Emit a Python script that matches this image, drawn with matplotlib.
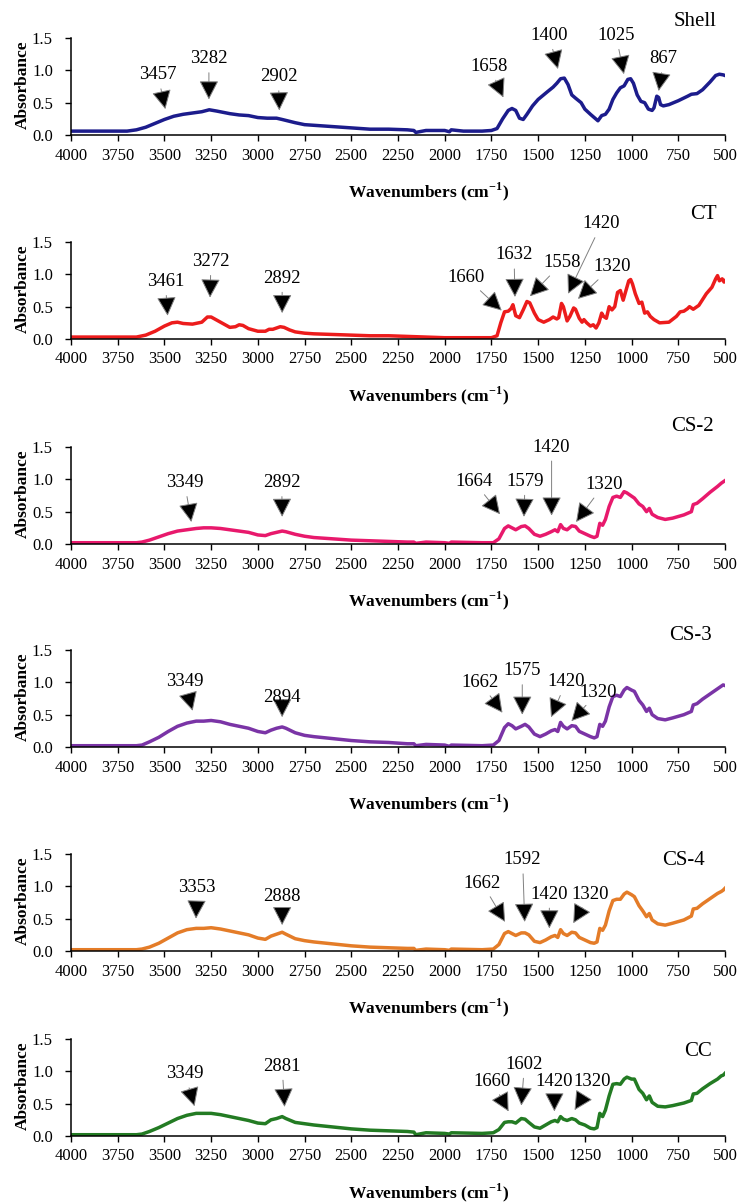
import matplotlib
matplotlib.use("Agg")
import matplotlib.pyplot as plt

plt.rcParams["font.family"] = ["Liberation Serif", "DejaVu Serif"]
plt.rcParams["mathtext.fontset"] = "custom"
plt.rcParams["mathtext.rm"] = "Liberation Serif"
plt.rcParams["mathtext.bf"] = "Liberation Serif:bold"

# ---- spectra (wavenumber cm-1, absorbance) ----
wn_shell = [4000, 3700, 3650, 3600, 3550, 3500, 3450, 3400, 3350, 3300, 3260, 3220, 3150, 3100,
            3050, 3000, 2950, 2900, 2870, 2800, 2750, 2700, 2600, 2500, 2400, 2300, 2200, 2165,
            2155, 2100, 2000, 1975, 1965, 1900, 1800, 1750, 1720, 1690, 1660, 1640, 1620, 1600,
            1580, 1560, 1530, 1500, 1450, 1420, 1400, 1380, 1360, 1340, 1320, 1300, 1270, 1250,
            1220, 1200, 1180, 1160, 1140, 1120, 1100, 1080, 1060, 1040, 1020, 1005, 990, 970,
            950, 930, 910, 890, 880, 865, 855, 845, 830, 800, 750, 700, 680, 650, 620, 580, 550,
            530, 510, 500]
ab_shell = [0.06, 0.06, 0.08, 0.12, 0.18, 0.24, 0.29, 0.32, 0.34, 0.36, 0.39, 0.37, 0.33, 0.31,
            0.30, 0.27, 0.26, 0.26, 0.24, 0.19, 0.16, 0.15, 0.13, 0.11, 0.09, 0.09, 0.08, 0.07,
            0.04, 0.07, 0.07, 0.05, 0.08, 0.06, 0.06, 0.07, 0.10, 0.25, 0.38, 0.41, 0.38, 0.26,
            0.24, 0.32, 0.45, 0.55, 0.67, 0.74, 0.80, 0.87, 0.88, 0.78, 0.62, 0.57, 0.50, 0.40,
            0.32, 0.27, 0.22, 0.30, 0.32, 0.40, 0.55, 0.65, 0.73, 0.76, 0.86, 0.87, 0.80, 0.62,
            0.52, 0.50, 0.40, 0.38, 0.42, 0.60, 0.58, 0.47, 0.45, 0.47, 0.53, 0.60, 0.63, 0.64,
            0.70, 0.82, 0.92, 0.94, 0.93, 0.92]

wn_ct = [4000, 3650, 3600, 3550, 3500, 3460, 3430, 3400, 3350, 3300, 3270, 3250, 3200, 3150,
         3120, 3100, 3080, 3050, 3000, 2960, 2940, 2920, 2900, 2880, 2860, 2830, 2800, 2750,
         2700, 2600, 2500, 2400, 2300, 2200, 2100, 2000, 1900, 1750, 1720, 1700, 1680, 1660,
         1645, 1635, 1620, 1600, 1580, 1560, 1545, 1520, 1500, 1470, 1440, 1420, 1400, 1390,
         1375, 1365, 1345, 1330, 1310, 1300, 1280, 1265, 1255, 1240, 1220, 1205, 1190, 1175,
         1160, 1150, 1135, 1120, 1105, 1090, 1075, 1060, 1045, 1030, 1015, 1005, 995, 980, 960,
         945, 930, 915, 900, 880, 850, 800, 760, 740, 720, 700, 690, 670, 640, 600, 570, 550,
         540, 530, 515, 505, 500]
ab_ct = [0.03, 0.03, 0.06, 0.12, 0.20, 0.25, 0.26, 0.24, 0.23, 0.26, 0.34, 0.34, 0.26, 0.18,
         0.19, 0.22, 0.21, 0.16, 0.12, 0.12, 0.15, 0.15, 0.17, 0.19, 0.18, 0.14, 0.11, 0.09,
         0.08, 0.07, 0.06, 0.05, 0.05, 0.04, 0.03, 0.02, 0.02, 0.02, 0.05, 0.25, 0.42, 0.43,
         0.47, 0.53, 0.36, 0.33, 0.45, 0.58, 0.56, 0.40, 0.30, 0.26, 0.30, 0.34, 0.31, 0.33,
         0.55, 0.50, 0.28, 0.35, 0.48, 0.46, 0.32, 0.26, 0.30, 0.25, 0.20, 0.22, 0.17, 0.25,
         0.40, 0.35, 0.32, 0.50, 0.45, 0.50, 0.72, 0.75, 0.60, 0.75, 0.90, 0.92, 0.85, 0.70, 0.55,
         0.57, 0.40, 0.42, 0.35, 0.30, 0.25, 0.26, 0.35, 0.42, 0.43, 0.47, 0.50, 0.46, 0.52,
         0.70, 0.80, 0.93, 0.98, 0.90, 0.93, 0.88, 0.90]

wn_cs = [4000, 3650, 3620, 3580, 3530, 3480, 3430, 3380, 3330, 3290, 3250, 3200, 3150, 3100,
         3050, 3000, 2960, 2930, 2900, 2870, 2850, 2800, 2750, 2700, 2600, 2500, 2400, 2300,
         2200, 2165, 2155, 2100, 2000, 1975, 1965, 1800, 1740, 1710, 1680, 1660, 1640, 1620,
         1590, 1570, 1550, 1520, 1490, 1460, 1430, 1410, 1395, 1380, 1365, 1345, 1320, 1300,
         1280, 1250, 1220, 1200, 1185, 1170, 1155, 1140, 1120, 1100, 1080, 1060, 1040, 1025,
         1000, 985, 960, 940, 920, 905, 890, 860, 820, 780, 720, 680, 670, 650, 620, 580, 540,
         520, 510, 500]
ab_cs2 = [0.02, 0.02, 0.03, 0.06, 0.11, 0.16, 0.20, 0.22, 0.24, 0.25, 0.25, 0.24, 0.22, 0.20,
          0.18, 0.14, 0.13, 0.16, 0.18, 0.20, 0.19, 0.15, 0.12, 0.10, 0.08, 0.06, 0.05, 0.04,
          0.03, 0.03, 0.01, 0.03, 0.02, 0.01, 0.03, 0.02, 0.02, 0.08, 0.24, 0.28, 0.25, 0.22,
          0.27, 0.28, 0.24, 0.15, 0.12, 0.15, 0.19, 0.22, 0.19, 0.30, 0.24, 0.22, 0.28, 0.27,
          0.20, 0.16, 0.12, 0.10, 0.12, 0.32, 0.29, 0.38, 0.58, 0.72, 0.74, 0.72, 0.81, 0.79,
          0.74, 0.71, 0.62, 0.58, 0.50, 0.55, 0.46, 0.41, 0.38, 0.40, 0.45, 0.50, 0.61, 0.63,
          0.70, 0.80, 0.89, 0.94, 0.96, 0.98]
ab_cs3 = [0.02, 0.02, 0.03, 0.08, 0.15, 0.24, 0.32, 0.37, 0.40, 0.40, 0.41, 0.39, 0.35, 0.32,
          0.29, 0.24, 0.22, 0.26, 0.29, 0.31, 0.29, 0.22, 0.18, 0.16, 0.13, 0.10, 0.08, 0.07,
          0.05, 0.05, 0.02, 0.04, 0.03, 0.01, 0.03, 0.02, 0.03, 0.10, 0.30, 0.36, 0.33, 0.28,
          0.32, 0.35, 0.31, 0.20, 0.16, 0.20, 0.25, 0.27, 0.24, 0.38, 0.32, 0.28, 0.33, 0.32,
          0.24, 0.20, 0.16, 0.14, 0.16, 0.35, 0.32, 0.40, 0.62, 0.78, 0.80, 0.78, 0.88, 0.92,
          0.88, 0.86, 0.72, 0.65, 0.55, 0.60, 0.50, 0.44, 0.42, 0.45, 0.50, 0.55, 0.65, 0.67,
          0.74, 0.82, 0.90, 0.94, 0.96, 0.95]
ab_cs4 = [0.02, 0.02, 0.03, 0.06, 0.12, 0.20, 0.28, 0.33, 0.35, 0.35, 0.36, 0.34, 0.31, 0.28,
          0.25, 0.20, 0.18, 0.23, 0.26, 0.29, 0.26, 0.19, 0.16, 0.14, 0.11, 0.08, 0.06, 0.05,
          0.04, 0.04, 0.01, 0.03, 0.02, 0.01, 0.03, 0.02, 0.03, 0.10, 0.27, 0.30, 0.27, 0.24,
          0.28, 0.28, 0.25, 0.15, 0.13, 0.17, 0.22, 0.24, 0.21, 0.33, 0.27, 0.24, 0.29, 0.28,
          0.21, 0.17, 0.13, 0.12, 0.14, 0.35, 0.32, 0.40, 0.62, 0.78, 0.80, 0.80, 0.88, 0.91,
          0.87, 0.84, 0.70, 0.62, 0.53, 0.58, 0.48, 0.42, 0.40, 0.43, 0.48, 0.54, 0.65, 0.66,
          0.73, 0.81, 0.89, 0.92, 0.94, 0.97]
ab_cc = [0.02, 0.02, 0.03, 0.07, 0.13, 0.20, 0.27, 0.32, 0.35, 0.35, 0.35, 0.33, 0.30, 0.27,
         0.24, 0.20, 0.19, 0.25, 0.27, 0.30, 0.27, 0.21, 0.19, 0.17, 0.14, 0.11, 0.09, 0.08,
         0.07, 0.06, 0.02, 0.05, 0.04, 0.03, 0.05, 0.04, 0.05, 0.10, 0.21, 0.22, 0.22, 0.20,
         0.27, 0.26, 0.21, 0.14, 0.12, 0.17, 0.22, 0.24, 0.22, 0.30, 0.26, 0.24, 0.27, 0.25,
         0.20, 0.17, 0.12, 0.11, 0.13, 0.35, 0.30, 0.40, 0.62, 0.80, 0.81, 0.80, 0.88, 0.91,
         0.88, 0.88, 0.72, 0.66, 0.56, 0.62, 0.52, 0.46, 0.45, 0.47, 0.51, 0.55, 0.65, 0.66,
         0.73, 0.81, 0.88, 0.93, 0.94, 0.97]

samples = ["Shell", "CT", "CS-2", "CS-3", "CS-4", "CC"]
colors = ["#1c1c8c", "#ec1c1c", "#e8196c", "#7a34a6", "#e47c28", "#237b23"]
spectra = [(wn_shell, ab_shell), (wn_ct, ab_ct), (wn_cs, ab_cs2),
           (wn_cs, ab_cs3), (wn_cs, ab_cs4), (wn_cs, ab_cc)]

# peak labels per panel
peaks = [
    ["3457", "3282", "2902", "1658", "1400", "1025", "867"],
    ["3461", "3272", "2892", "1660", "1632", "1558", "1420", "1320"],
    ["3349", "2892", "1664", "1579", "1420", "1320"],
    ["3349", "2894", "1662", "1575", "1420", "1320"],
    ["3353", "2888", "1662", "1592", "1420", "1320"],
    ["3349", "2881", "1660", "1602", "1420", "1320"],
]
# (text x, text y, arrow tip x, arrow tip y) in data units
peak_pos = [
    [(3535, 0.93, 3495, 0.40), (3262, 1.18, 3262, 0.55), (2890, 0.90, 2885, 0.38),
     (1760, 1.06, 1686, 0.58), (1442, 1.54, 1394, 1.02), (1083, 1.54, 1041, 0.94),
     (828, 1.18, 855, 0.68)],
    [(3495, 0.89, 3483, 0.36), (3251, 1.20, 3256, 0.64), (2870, 0.94, 2870, 0.40),
     (1885, 0.95, 1695, 0.44), (1629, 1.30, 1624, 0.65), (1370, 1.18, 1544, 0.66),
     (1161, 1.78, 1340, 0.70), (1105, 1.12, 1287, 0.62)],
    [(3392, 0.95, 3356, 0.34), (2872, 0.95, 2870, 0.42), (1845, 0.97, 1704, 0.46),
     (1570, 0.97, 1576, 0.42), (1428, 1.50, 1428, 0.44), (1148, 0.92, 1297, 0.34)],
    [(3392, 1.01, 3349, 0.56), (2870, 0.76, 2870, 0.46), (1810, 1.00, 1691, 0.53),
     (1585, 1.18, 1585, 0.50), (1350, 1.01, 1431, 0.46), (1178, 0.85, 1322, 0.40)],
    [(3326, 0.98, 3331, 0.50), (2870, 0.85, 2870, 0.40), (1800, 1.05, 1677, 0.45),
     (1583, 1.41, 1572, 0.45), (1440, 0.88, 1440, 0.35), (1222, 0.88, 1312, 0.43)],
    [(3390, 0.96, 3339, 0.46), (2870, 1.08, 2857, 0.45), (1748, 0.85, 1658, 0.38),
     (1573, 1.11, 1590, 0.47), (1413, 0.84, 1413, 0.38), (1210, 0.84, 1305, 0.40)],
]
name_pos = [(661, 1.75), (618, 1.92), (673, 1.81), (682, 1.72), (720, 1.40), (643, 1.30)]

x_ticks = list(range(4000, 499, -250))
y_ticks = [0.0, 0.5, 1.0, 1.5]

W, H = 739, 1204
fig = plt.figure(figsize=(W / 100, H / 100), dpi=100)
baselines = [135, 339, 544, 747, 951, 1136]
ax_left, ax_w, ax_h = 71, 654, 97

for i, name in enumerate(samples):
    ax = fig.add_axes([ax_left / W, 1 - baselines[i] / H, ax_w / W, ax_h / H])
    wn, ab = spectra[i]
    ax.plot(wn, ab, color=colors[i], lw=2.5, solid_joinstyle="round")
    ax.set_xlim(4000, 500)
    ax.set_ylim(0, 1.5)
    ax.set_xticks(x_ticks)
    ax.set_xticklabels([str(t) for t in x_ticks])
    ax.set_yticks(y_ticks)
    ax.set_yticklabels(["%.1f" % t for t in y_ticks])
    ax.tick_params(direction="out", length=4, width=1, labelsize=12)
    ax.tick_params(axis="x", pad=5)
    ax.tick_params(axis="y", pad=9)
    for s in ["top", "right"]:
        ax.spines[s].set_visible(False)
    for s in ["left", "bottom"]:
        ax.spines[s].set_linewidth(1.1)
    ax.set_ylabel("Absorbance", fontsize=12.5, fontweight="bold")
    ax.yaxis.set_label_coords(-0.062, 0.52)
    ax.set_xlabel(r"Wavenumbers (cm$^{\mathbf{-1}}$)", fontsize=12.5,
                  fontweight="bold", va="center")
    ax.xaxis.set_label_coords(0.546, -0.58)

    for lab, (tx, ty, px, py) in zip(peaks[i], peak_pos[i]):
        ax.annotate(lab, xy=(px, py), xytext=(tx, ty), ha="center", va="center",
                    fontsize=13.5, annotation_clip=False,
                    arrowprops=dict(arrowstyle="-|>,head_length=0.7,head_width=0.36",
                                    mutation_scale=17, fc="black", ec="0.5", lw=0.7,
                                    shrinkA=2, shrinkB=0))
    nx, ny = name_pos[i]
    ax.text(nx, ny, name, ha="center", va="center", fontsize=15, clip_on=False)

fig.savefig("out.png", dpi=100)
